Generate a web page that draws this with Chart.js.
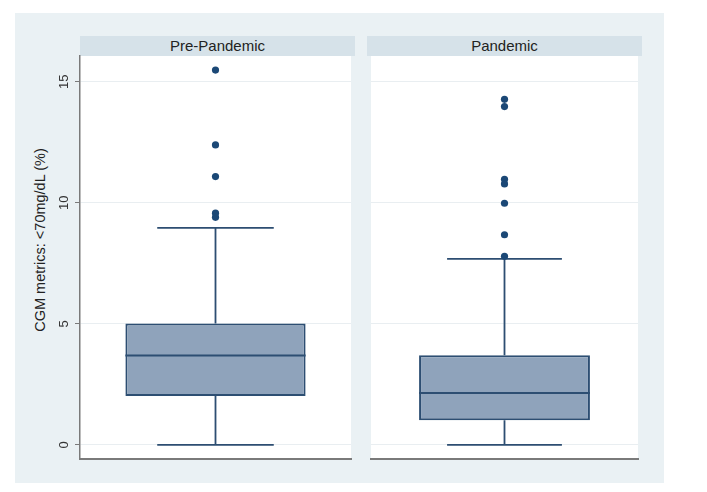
<!DOCTYPE html>
<html>
<head>
<meta charset="utf-8">
<script src="https://cdn.jsdelivr.net/npm/chart.js@4.4.1/dist/chart.umd.min.js"></script>
<style>
  body { margin: 0; background: #fff; font-family: "Liberation Sans", Arial, sans-serif; }
  #frame { position: absolute; left: 15px; top: 13px; width: 649px; height: 470px; background: #eaf1f4; }
  .strip { position: absolute; top: 36px; width: 275px; height: 20px; line-height: 20px;
           background: #d6e2e9; color: #222; font-size: 15px; text-align: center; }
  canvas { position: absolute; top: 50px; }
  #ytitle { position: absolute; left: 40px; top: 240px; transform: translate(-50%, -50%) rotate(-90deg);
            white-space: nowrap; font-size: 14.5px; color: #222; }
</style>
</head>
<body>
<div id="frame"></div>
<div class="strip" id="head0" style="left:80px"></div>
<div class="strip" id="head1" style="left:367px"></div>
<div id="ytitle">CGM metrics: &lt;70mg/dL (%)</div>
<canvas id="panel0" width="340" height="415" style="left:15px"></canvas>
<canvas id="panel1" width="275" height="415" style="left:367px"></canvas>
<script>
// box plot values
const groups = ['Pre-Pandemic', 'Pandemic'];
const lowerWhisker = [0, 0];
const q1 = [2.02, 1.02];
const medians = [3.69, 2.15];
const q3 = [5.02, 3.70];
const upperWhisker = [8.96, 7.68];
const outliers = [
  [15.48, 12.39, 11.08, 9.57, 9.40],
  [14.27, 13.97, 10.97, 10.78, 9.98, 8.68, 7.79]
];
const yTicks = [0, 5, 10, 15];
const yMin = -0.58, yMax = 16.06;

const boxFill = '#8fa3bb';
const boxLine = '#2d4e72';
const dotColor = '#1b4876';
const axisGrey = '#7a7a7a';
const gridColor = '#e9eef1';

// white plot region behind grid
const plotBg = {
  id: 'plotBg',
  beforeDraw(chart) {
    const a = chart.chartArea, ctx = chart.ctx;
    ctx.save();
    ctx.fillStyle = '#fff';
    ctx.fillRect(a.left, a.top, a.right - a.left, a.bottom - a.top);
    ctx.restore();
  }
};

function drawPanel(i, showAxis, boxFrac) {
  document.getElementById('head' + i).textContent = groups[i];
  const capHalf = 0.43;

  new Chart(document.getElementById('panel' + i), {
    type: 'bar',
    data: {
      datasets: [
        { type: 'scatter', order: 0,
          data: outliers[i].map(v => ({x: 0, y: v})),
          pointRadius: 3.6, pointBackgroundColor: dotColor, pointBorderWidth: 0 },
        { type: 'line', order: 1,
          data: [{x: -boxFrac, y: medians[i]}, {x: boxFrac, y: medians[i]}],
          borderColor: boxLine, borderWidth: 2, pointRadius: 0 },
        { type: 'line', order: 2,
          data: [
            {x: -capHalf, y: upperWhisker[i]}, {x: capHalf, y: upperWhisker[i]}, {x: 0, y: null},
            {x: 0, y: upperWhisker[i]}, {x: 0, y: q3[i]}, {x: 0, y: null},
            {x: 0, y: q1[i]}, {x: 0, y: lowerWhisker[i]}, {x: 0, y: null},
            {x: -capHalf, y: lowerWhisker[i]}, {x: capHalf, y: lowerWhisker[i]}
          ],
          borderColor: boxLine, borderWidth: 1.8, pointRadius: 0, spanGaps: false },
        { type: 'bar', order: 3,
          data: [{x: 0, y: [q1[i], q3[i]]}],
          backgroundColor: boxFill, borderColor: boxLine, borderWidth: 2, borderSkipped: false,
          categoryPercentage: 1, barPercentage: boxFrac }
      ]
    },
    options: {
      responsive: false,
      animation: false,
      events: [],
      layout: { padding: { top: 6, bottom: 6, left: 0, right: 0 } },
      plugins: { legend: { display: false }, tooltip: { enabled: false } },
      scales: {
        x: {
          type: 'linear', min: -1, max: 1, offset: false,
          afterBuildTicks: s => { s.ticks = [{value: -1}, {value: 1}]; },
          afterFit: s => { s.height = 0; s.paddingLeft = 0; s.paddingRight = 0; },
          ticks: { display: false },
          grid: { display: false },
          border: { display: true, color: axisGrey, width: 2 }
        },
        y: {
          type: 'linear', min: yMin, max: yMax,
          afterBuildTicks: s => { s.ticks = yTicks.map(v => ({value: v})); },
          afterFit: s => { s.width = showAxis ? 65 : 0; s.paddingTop = 0; s.paddingBottom = 0; },
          ticks: {
            display: showAxis, minRotation: 90, maxRotation: 90, crossAlign: 'center', padding: 3,
            color: '#333', font: { family: 'Liberation Sans', size: 13 }
          },
          grid: { color: gridColor, lineWidth: 1, drawTicks: showAxis, tickLength: 5, tickColor: axisGrey },
          border: { display: showAxis, color: axisGrey, width: 1.5 }
        }
      }
    },
    plugins: [plotBg]
  });
}

drawPanel(0, true, 0.665);
drawPanel(1, false, 0.64);
</script>
</body>
</html>
